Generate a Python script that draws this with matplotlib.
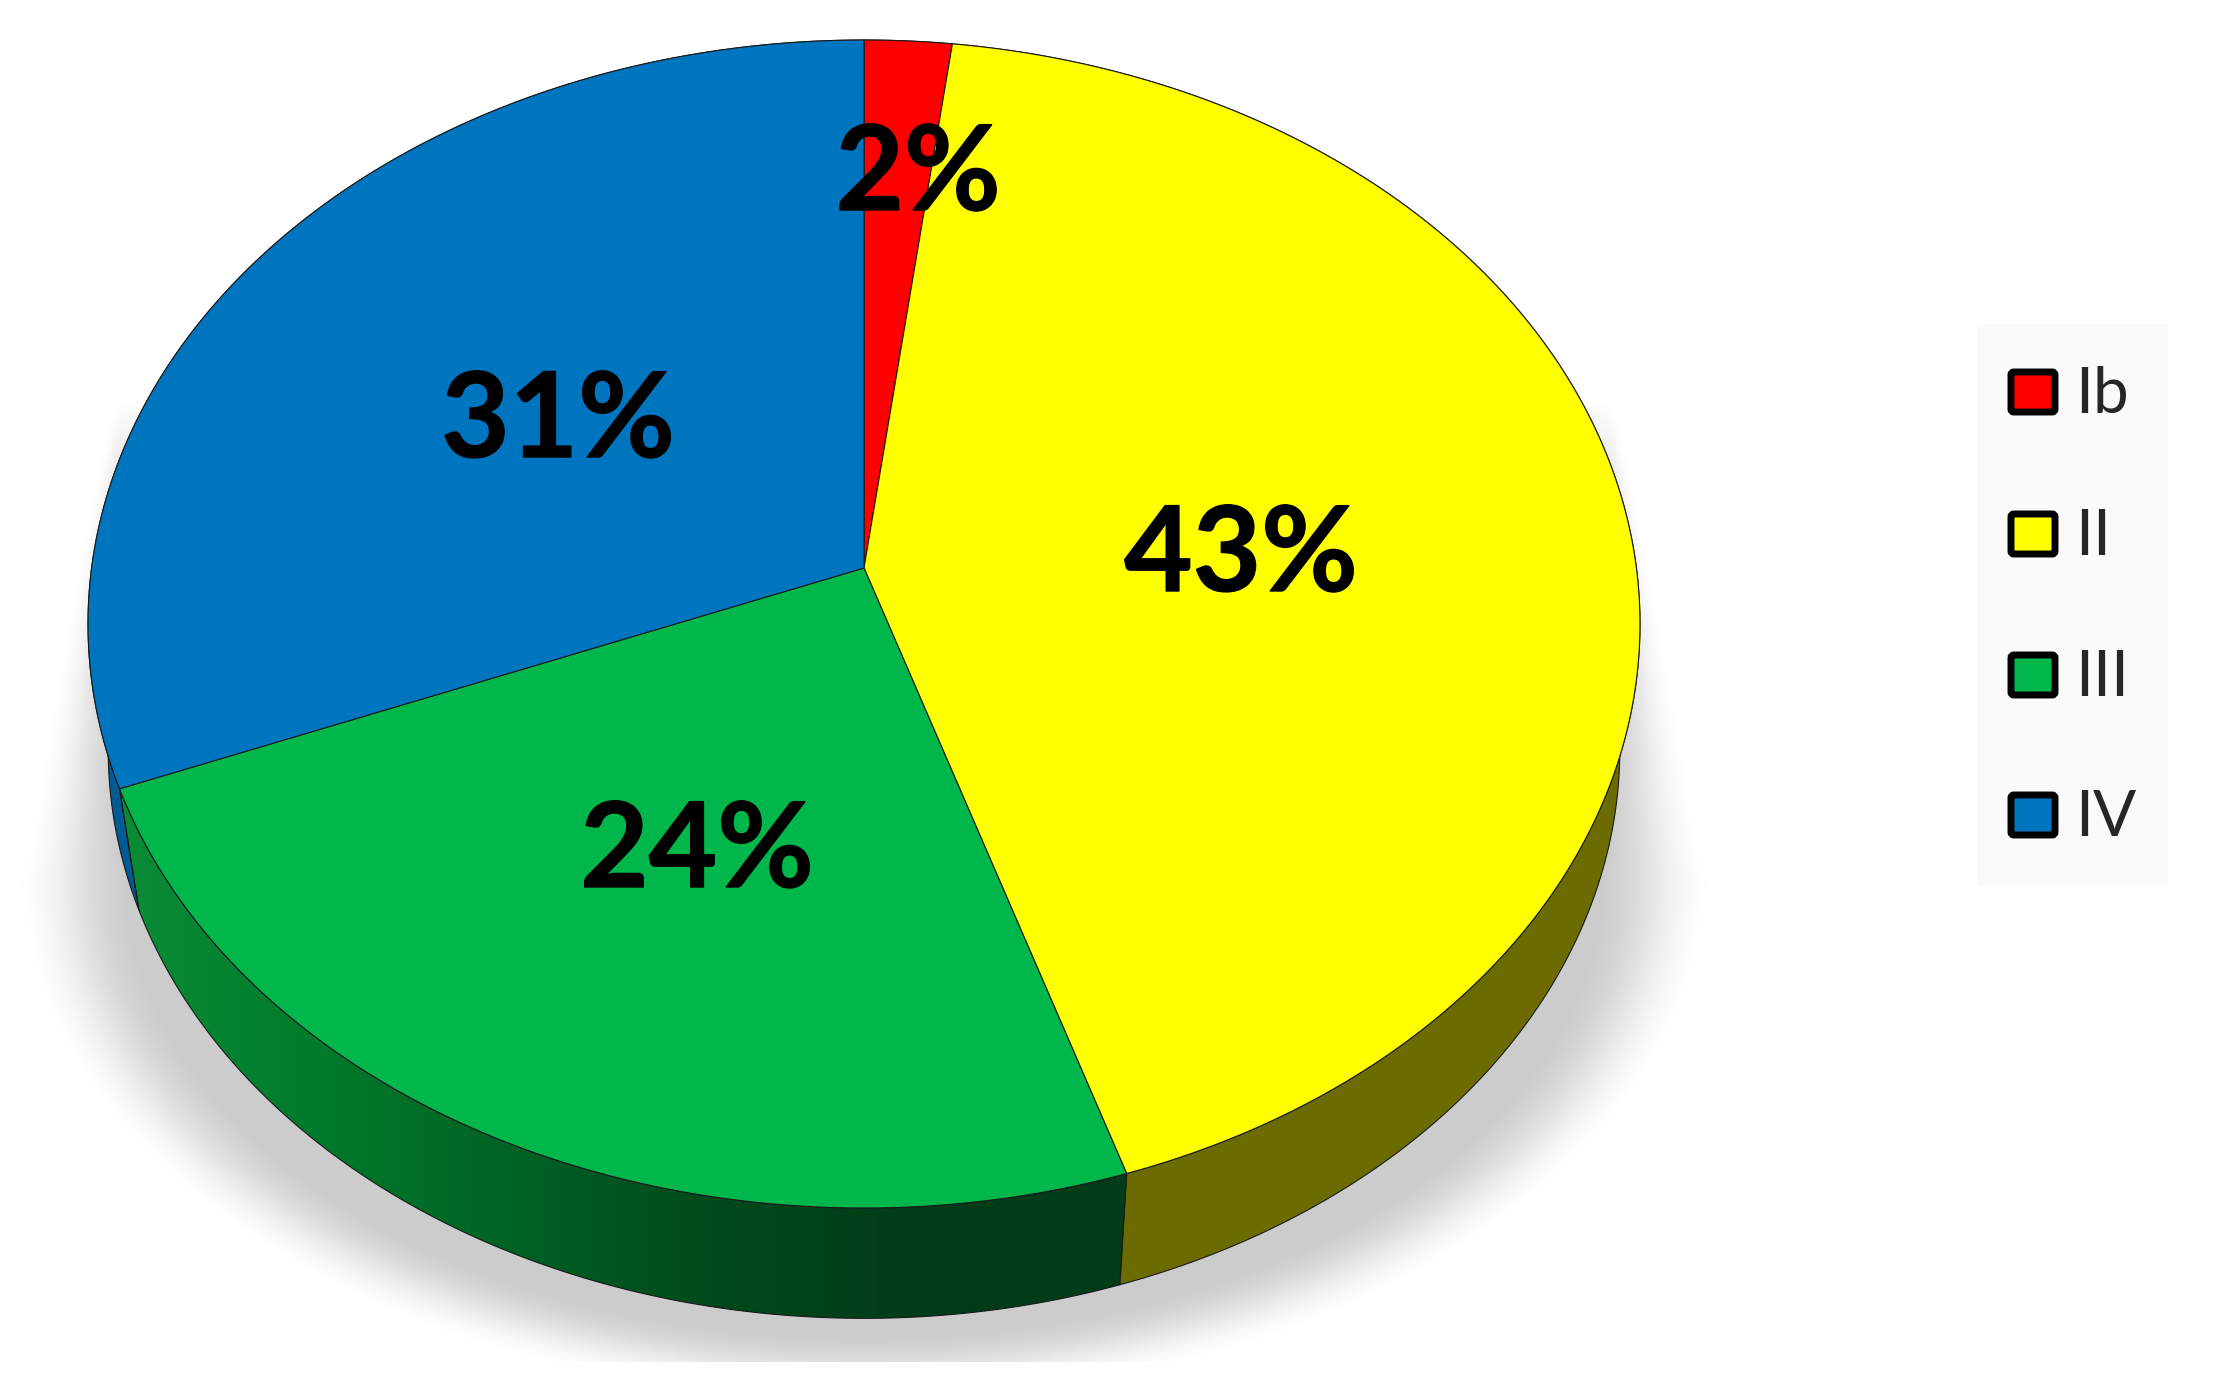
import numpy as np
import matplotlib
matplotlib.use("Agg")
import matplotlib.pyplot as plt
import matplotlib.patheffects as pe
from matplotlib.colors import LinearSegmentedColormap
from matplotlib.patches import FancyBboxPatch, Polygon, Rectangle

# chart data
categories = ["Ib", "II", "III", "IV"]
percent = [2, 43, 24, 31]
top_colors = ["#FF0000", "#FFFF00", "#00B74B", "#0075BF"]
wall_colors = ["#7F0000", "#6B6B00", "#007A2C", "#005A94"]

# layout, in pixels of the 2226x1397 picture
WIDTH, HEIGHT = 2226, 1397
CX, CY = 864, 568
RX, RY = 772.4, 578.6
TILT = 0.0959
WALL_DY, WALL_SCALE = 127, 0.974
LABEL_POS = [(918, 176), (1241, 557), (697, 853), (558, 423)]
LEGEND_Y = [392, 534, 675, 815]


def project(theta, r=1.0, scale=1.0, dy=0.0):
    # theta runs clockwise from the top of the pie
    u = r * np.sin(theta)
    v = r * np.cos(theta)
    d = 1 + TILT * v
    return CX + scale * RX * u / d, CY + dy - scale * RY * v / d


def arc(t0, t1, scale=1.0, dy=0.0):
    t = np.linspace(t0, t1, 200)
    x, y = project(t, scale=scale, dy=dy)
    return np.column_stack([x, y])


def draw_shadow(ax):
    xx, yy = np.meshgrid(np.arange(WIDTH) + 0.5, np.arange(HEIGHT) + 0.5)
    y0 = 880
    half_w = 848 - np.clip(y0 - yy, 0, None) * 0.2
    below = np.clip(yy - y0, 0, None) / 525
    r = np.sqrt(((xx - CX) / half_w) ** 2 + below ** 2)
    blur = 0.02 + 0.12 * np.clip((yy - 430) / (y0 - 430), 0, 1)
    a = np.clip((1 - r) / blur, 0, 1)
    a = a * a * (3 - 2 * a)
    # flanks fade out upwards, the bottom is cut straight
    a = a * np.clip((yy - 400) / 160, 0, 1)
    a[yy > 1362] = 0
    img = np.ones((HEIGHT, WIDTH, 4))
    img[..., :3] = 0.80
    img[..., 3] = a
    ax.imshow(img, extent=(0, WIDTH, HEIGHT, 0), aspect="auto", zorder=1,
              interpolation="bilinear")


def draw_pie(ax):
    edges = np.cumsum([0] + percent) / 100 * 2 * np.pi
    edge_kw = dict(edgecolor="#1a1a1a", linewidth=0.8, joinstyle="round")

    # side walls first, the top of the pie covers their upper part
    for i in range(len(percent)):
        lower = arc(edges[i], edges[i + 1], WALL_SCALE, WALL_DY)
        upper = arc(edges[i + 1], edges[i])
        pts = np.vstack([lower, upper])
        if categories[i] == "III":
            shade = LinearSegmentedColormap.from_list(
                "wall", ["#0A8C36", "#007A2C", "#006024", "#00481C", "#003C18", "#003C18"])
            grad = np.linspace(0, 1, 256).reshape(1, -1)
            im = ax.imshow(grad, cmap=shade, aspect="auto", zorder=2,
                           extent=(pts[:, 0].min(), pts[:, 0].max(), HEIGHT, 0))
            clip = Polygon(pts, closed=True, transform=ax.transData, facecolor="none")
            ax.add_patch(clip)
            im.set_clip_path(clip)
            ax.add_patch(Polygon(pts, closed=True, facecolor="none", zorder=2.1, **edge_kw))
        else:
            ax.add_patch(Polygon(pts, closed=True, facecolor=wall_colors[i], zorder=2, **edge_kw))

    # top face
    for i in range(len(percent)):
        pts = np.vstack([[project(0.0, r=0.0)], arc(edges[i], edges[i + 1])])
        ax.add_patch(Polygon(pts, closed=True, facecolor=top_colors[i], zorder=3, **edge_kw))


def draw_labels(ax):
    for value, (x, y) in zip(percent, LABEL_POS):
        t = ax.text(x, y, f"{value}%", ha="center", va="center", color="black",
                    fontsize=85, fontweight="bold", family="Lato", zorder=4)
        t.set_path_effects([pe.withStroke(linewidth=1, foreground="black")])


def draw_legend(ax):
    ax.add_patch(Rectangle((1977, 324), 191, 562, facecolor="#FAFAFA",
                           edgecolor="none", zorder=1.5))
    for name, color, y in zip(categories, top_colors, LEGEND_Y):
        ax.add_patch(FancyBboxPatch((2011, y - 20), 44, 40,
                                    boxstyle="round,pad=0,rounding_size=3",
                                    facecolor=color, edgecolor="black",
                                    linewidth=5, zorder=4))
        ax.text(2075, y + 3, name, ha="left", va="center", color="#262626",
                fontsize=46, family="Lato", zorder=4)


def main():
    fig = plt.figure(figsize=(WIDTH / 100, HEIGHT / 100), dpi=100)
    ax = fig.add_axes([0, 0, 1, 1])
    draw_shadow(ax)
    draw_pie(ax)
    draw_labels(ax)
    draw_legend(ax)
    ax.set_xlim(0, WIDTH)
    ax.set_ylim(HEIGHT, 0)
    ax.axis("off")
    fig.savefig("out.png", dpi=100, facecolor="white")
    plt.close(fig)


if __name__ == "__main__":
    main()
